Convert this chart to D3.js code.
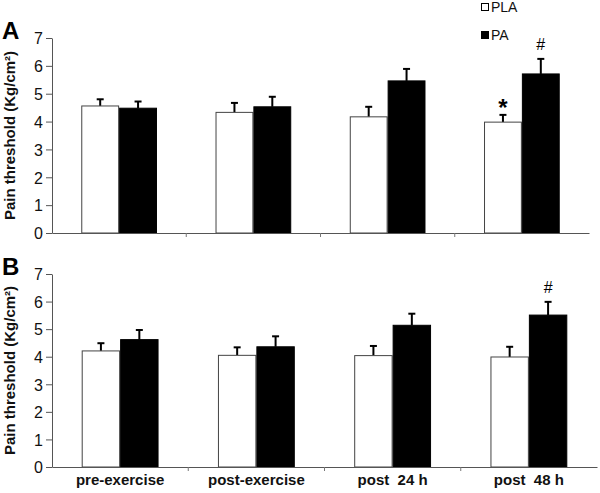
<!DOCTYPE html>
<html>
<head>
<meta charset="utf-8">
<script src="https://cdn.jsdelivr.net/npm/d3@7"></script>
<style>
html,body{margin:0;padding:0;background:#fff;}
svg{display:block;}
text{font-family:"Liberation Sans",Arial,sans-serif;}
</style>
</head>
<body>
<svg id="chart" width="600" height="493"></svg>
<script>
// ---- data ----
const categories = ["pre-exercise", "post-exercise", "post  24 h", "post  48 h"];
const seriesNames = ["PLA", "PA"];
const yTicks = [0, 1, 2, 3, 4, 5, 6, 7];

const plaA = [4.56, 4.33, 4.17, 3.98];
const plaAErr = [0.24, 0.34, 0.36, 0.26];
const paA = [4.48, 4.53, 5.46, 5.71];
const paAErr = [0.24, 0.36, 0.43, 0.54];

const plaB = [4.21, 4.05, 4.04, 3.99];
const plaBErr = [0.28, 0.29, 0.35, 0.37];
const paB = [4.62, 4.36, 5.14, 5.51];
const paBErr = [0.35, 0.38, 0.42, 0.48];

const marksA = [{cat: "post  48 h", series: "PLA", label: "*"}, {cat: "post  48 h", series: "PA", label: "#"}];
const marksB = [{cat: "post  48 h", series: "PA", label: "#"}];

const yLabel = "Pain threshold (Kg/cm²)";

// ---- drawing ----
const svg = d3.select("#chart");
const FONT = "'Liberation Sans', Arial, sans-serif";

function drawPanel(opt) {
  const g = svg.append("g");
  const x = d3.scaleBand().domain(categories).range([opt.x0, opt.x1]).padding(0);
  const bw = x.bandwidth();
  const xs = d3.scaleBand().domain(seriesNames).range([bw * 0.218, bw * 0.782]).padding(0);
  const y = d3.scaleLinear().domain([0, 7]).range([opt.yBottom, opt.yTop]);

  const rows = [];
  categories.forEach((c, i) => {
    rows.push({cat: c, series: "PLA", v: opt.pla[i], e: opt.plaErr[i]});
    rows.push({cat: c, series: "PA", v: opt.pa[i], e: opt.paErr[i]});
  });

  // error bars (upward only)
  const eb = g.append("g");
  rows.forEach(d => {
    const cx = x(d.cat) + xs(d.series) + xs.bandwidth() / 2;
    eb.append("line").attr("x1", cx).attr("x2", cx)
      .attr("y1", y(d.v)).attr("y2", y(d.v + d.e))
      .attr("stroke", "#000").attr("stroke-width", 2);
    eb.append("line").attr("x1", cx - 3.5).attr("x2", cx + 3.5)
      .attr("y1", y(d.v + d.e)).attr("y2", y(d.v + d.e))
      .attr("stroke", "#000").attr("stroke-width", 2);
  });

  // bars
  g.append("g").selectAll("rect").data(rows).join("rect")
    .attr("x", d => x(d.cat) + xs(d.series) + 0.5)
    .attr("width", xs.bandwidth() - 1)
    .attr("y", d => y(d.v))
    .attr("height", d => y(0) - y(d.v))
    .attr("fill", d => d.series === "PLA" ? "#fff" : "#000")
    .attr("stroke", d => d.series === "PLA" ? "#444" : "#000")
    .attr("stroke-width", 1);

  // y axis
  const ya = g.append("g").attr("transform", `translate(${opt.x0},0)`)
    .call(d3.axisLeft(y).tickValues(yTicks).tickFormat(d3.format("d")).tickSize(6).tickSizeOuter(0));
  ya.attr("font-size", 16).attr("font-family", FONT);
  ya.select(".domain").attr("stroke", "#555");
  ya.selectAll(".tick line").attr("stroke", "#555");
  ya.selectAll(".tick text").attr("fill", "#111").attr("x", -9).attr("dy", "0.36em");

  // x axis
  const xa = g.append("g").attr("transform", `translate(0,${y(0)})`)
    .call(d3.axisBottom(x).tickSize(0).tickSizeOuter(0));
  xa.select(".domain").attr("stroke", "#555");
  xa.selectAll(".tick text").remove();
  categories.slice(1).forEach(c => {
    xa.append("line").attr("x1", x(c)).attr("x2", x(c)).attr("y1", 0).attr("y2", 4)
      .attr("stroke", "#777");
  });
  if (opt.showLabels) {
    categories.forEach(c => {
      xa.append("text").attr("x", x(c) + bw / 2).attr("y", 18)
        .attr("text-anchor", "middle").attr("font-size", 15).attr("font-weight", "bold")
        .attr("fill", "#111").style("white-space", "pre")
        .attr("font-family", FONT)
        .text(c);
    });
  }

  // significance marks
  opt.marks.forEach(m => {
    const i = categories.indexOf(m.cat);
    const v = m.series === "PLA" ? opt.pla[i] + opt.plaErr[i] : opt.pa[i] + opt.paErr[i];
    const cx = x(m.cat) + xs(m.series) + xs.bandwidth() / 2;
    if (m.label === "*") {
      g.append("text").attr("x", cx).attr("y", y(v) + 1)
        .attr("text-anchor", "middle").attr("font-size", 24).attr("font-weight", "bold")
        .attr("fill", "#000").text(m.label);
    } else {
      g.append("text").attr("x", cx).attr("y", y(v) - 9)
        .attr("text-anchor", "middle").attr("font-size", 16)
        .attr("fill", "#000").text(m.label);
    }
  });

  // y label
  g.append("text")
    .attr("transform", `translate(${opt.labelX},${(y(0) + y(7)) / 2}) rotate(-90)`)
    .attr("text-anchor", "middle").attr("font-size", 15).attr("font-weight", "bold")
    .attr("fill", "#111").text(yLabel);

  // panel letter
  g.append("text").attr("x", 2).attr("y", opt.letterY)
    .attr("font-size", 24).attr("font-weight", "bold").attr("fill", "#000").text(opt.letter);
}

drawPanel({x0: 52, x1: 589, yTop: 38, yBottom: 233, pla: plaA, plaErr: plaAErr, pa: paA, paErr: paAErr,
  marks: marksA, showLabels: false, labelX: 14.5, letter: "A", letterY: 39});
drawPanel({x0: 52, x1: 597, yTop: 274, yBottom: 467, pla: plaB, plaErr: plaBErr, pa: paB, paErr: paBErr,
  marks: marksB, showLabels: true, labelX: 14.5, letter: "B", letterY: 275});

// legend
const legend = svg.append("g");
seriesNames.forEach((s, i) => {
  const ly = 3 + i * 28;
  legend.append("rect").attr("x", 481.5).attr("y", ly + 0.5).attr("width", 7).attr("height", 7)
    .attr("fill", s === "PLA" ? "#fff" : "#000").attr("stroke", "#000").attr("stroke-width", 1);
  legend.append("text").attr("x", 491).attr("y", ly + 9).attr("font-size", 14)
    .attr("fill", "#111").text(s);
});
</script>
</body>
</html>
